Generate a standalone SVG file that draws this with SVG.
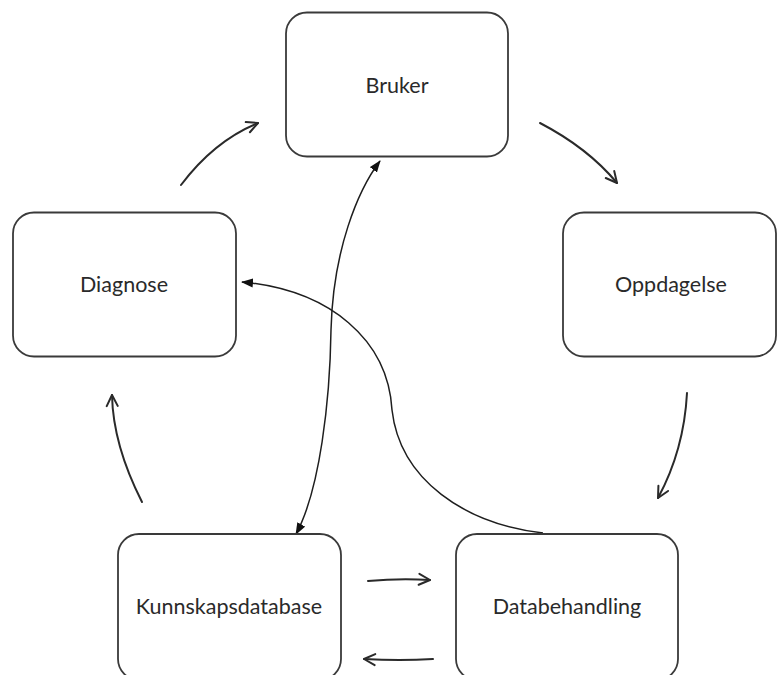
<svg xmlns="http://www.w3.org/2000/svg" width="777" height="675" viewBox="0 0 777 675">
  <style>
    .box { fill: #ffffff; stroke: #3a3a3a; stroke-width: 1.8; }
    .label { font-family: Lato, "Noto Sans", "Liberation Sans", sans-serif; font-size: 21.5px; fill: #2a2a2a; text-anchor: middle; dominant-baseline: central; }
    .flow { fill: none; stroke: #2a2a2a; stroke-width: 2; stroke-linecap: round; marker-end: url(#open); }
    .link { fill: none; stroke: #1e1e1e; stroke-width: 1.5; }
  </style>
  <defs>
    <marker id="open" viewBox="0 0 14 14" refX="12.5" refY="7" markerWidth="14" markerHeight="14" markerUnits="userSpaceOnUse" orient="auto">
      <path d="M1.5,1.5 L12.5,7 L1.5,12.5" fill="none" stroke="#2a2a2a" stroke-width="2" stroke-linecap="round" stroke-linejoin="round"/>
    </marker>
    <marker id="solid" viewBox="0 0 12 10" refX="11" refY="5" markerWidth="12" markerHeight="10" markerUnits="userSpaceOnUse" orient="auto-start-reverse">
      <path d="M0,0.5 L12,5 L0,9.5 z" fill="#111"/>
    </marker>
  </defs>

  <rect width="777" height="675" fill="#ffffff"/>

  <g id="connectors">
    <!-- cycle arrows -->
    <path class="flow" d="M181,185 Q214,141 258,123"/>
    <path class="flow" d="M540,123 Q588,148 617,183"/>
    <path class="flow" d="M687,393 Q684,450 658,498"/>
    <path class="flow" d="M142,502 Q113,445 112,395"/>
    <path class="flow" d="M368,581 Q400,578 430,580"/>
    <path class="flow" d="M433,659 Q400,661 364,659"/>
    <!-- Bruker <-> Kunnskapsdatabase -->
    <path class="link" d="M380,161 C358,190 333,250 331,330 C330,400 320,490 296,534" marker-start="url(#solid)" marker-end="url(#solid)"/>
    <!-- Databehandling -> Diagnose -->
    <path class="link" d="M543,533 C465,524 400,480 392,410 C388,340 330,290 242,282" marker-end="url(#solid)"/>
  </g>

  <g id="bruker">
    <rect class="box" x="286" y="12.5" width="222" height="144" rx="21"/>
    <text class="label" x="397" y="85">Bruker</text>
  </g>
  <g id="oppdagelse">
    <rect class="box" x="563" y="212.5" width="213" height="144" rx="21"/>
    <text class="label" x="671" y="284">Oppdagelse</text>
  </g>
  <g id="diagnose">
    <rect class="box" x="13" y="212.5" width="223" height="144" rx="21"/>
    <text class="label" x="124" y="284">Diagnose</text>
  </g>
  <g id="kunnskapsdatabase">
    <rect class="box" x="118" y="534" width="223" height="146" rx="21"/>
    <text class="label" x="229" y="606">Kunnskapsdatabase</text>
  </g>
  <g id="databehandling">
    <rect class="box" x="456" y="534" width="222" height="146" rx="21"/>
    <text class="label" x="567" y="606">Databehandling</text>
  </g>
</svg>
